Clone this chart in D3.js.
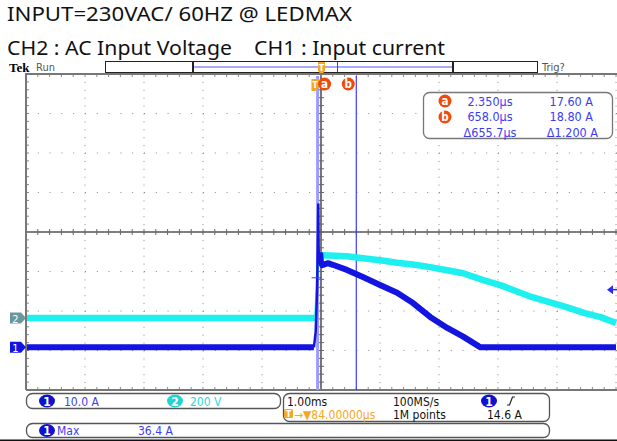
<!DOCTYPE html>
<meta charset="utf-8">
<style>
body { margin: 0; background: #fff; }
svg text { font-family: "Liberation Sans Narrow", "DejaVu Sans Condensed", "Liberation Sans", sans-serif; }
.title { font-family: "Noto Sans", "Open Sans", sans-serif; font-size: 20px; fill: #111; }
.ro { font-size: 12.5px; fill: #3c3cf4; }
.bt { font-size: 12px; }
</style>
<svg width="617" height="441"></svg>
<script src="https://d3js.org/d3.v7.min.js"></script>
<script>

// CH1 : input current (A) vs time from trigger (ms)
var ch1Time = [-4.94, -0.06, -0.03, -0.005, 0.014, 0.02, 0.03, 0.045, 0.06, 0.08, 0.18, 0.26, 0.5, 0.77, 1.06, 1.35, 1.62, 1.91, 2.2, 2.47, 2.73, 2.76, 5.06];
var ch1Amps = [0, 0, 4, 15, 36.4, 25, 21.5, 24, 21.5, 20.8, 21.3, 20.9, 19.6, 17.8, 15.8, 13.8, 11.2, 7.7, 4.9, 2.7, 0.3, 0, 0];

// CH2 : AC input voltage (V) vs time from trigger (ms)
var ch2Time = [-4.94, -0.04, -0.025, -0.008, 0.017, 0.04, 0.09, 0.5, 0.77, 1.06, 1.35, 1.62, 1.91, 2.2, 2.47, 2.81, 3.1, 3.37, 3.64, 3.93, 4.22, 4.53, 4.8, 5.06];
var ch2Volts = [0, 0, 60, 200, 330, 316, 318, 313, 303, 293, 280, 271, 258, 242, 227, 192, 167, 136, 106, 81, 56, 25, 5, -25];

// cursors
var cursorNames = ["a", "b"];
var cursorTimes = [0.00235, 0.658];
var cursorAmps = [17.60, 18.80];
var cursorTimeLabels = ["2.350\u00b5s", "658.0\u00b5s", "\u0394655.7\u00b5s"];
var cursorAmpLabels = ["17.60 A", "18.80 A", "\u03941.200 A"];

// scope settings
var ch1PerDiv = 10, ch2PerDiv = 200;
var ch1Offset = -2.92, ch2Offset = -2.18;   // divisions below centre
var timeStart = -4.94, timePerDiv = 1;      // ms
var trigLevel = 14.6, ch1Max = 36.4;

var blue = "#1414e0", cyan = "#1ef0f0", orange = "#f5a623", red = "#f04a0a", txtBlue = "#3c3cf4";

var svg = d3.select("svg");

var gLeft = 26, gRight = 616, gTop = 74, gBottom = 390;
var x = d3.scaleLinear().domain([timeStart, timeStart + 10 * timePerDiv]).range([gLeft, gRight]);
var divX = d3.scaleLinear().domain([-5, 5]).range([gLeft, gRight]);
var divY = d3.scaleLinear().domain([-4, 4]).range([gBottom, gTop]);
var y1 = d3.scaleLinear().domain([(-4 - ch1Offset) * ch1PerDiv, (4 - ch1Offset) * ch1PerDiv]).range([gBottom, gTop]);
var y2 = d3.scaleLinear().domain([(-4 - ch2Offset) * ch2PerDiv, (4 - ch2Offset) * ch2PerDiv]).range([gBottom, gTop]);

// titles
svg.append("text").attr("class", "title").attr("x", 7).attr("y", 21)
  .attr("textLength", 345).attr("lengthAdjust", "spacingAndGlyphs")
  .text("INPUT=230VAC/ 60HZ @ LEDMAX");
svg.append("text").attr("class", "title").attr("x", 7).attr("y", 55)
  .attr("textLength", 438).attr("lengthAdjust", "spacingAndGlyphs")
  .attr("xml:space", "preserve")
  .text("CH2 : AC Input Voltage    CH1 : Input current");

// header
svg.append("text").attr("x", 9).attr("y", 72).style("font-family", "Liberation Serif, serif")
  .style("font-weight", "bold").style("font-size", "13px").text("Tek");
svg.append("text").attr("x", 36).attr("y", 71).style("font-size", "11px").attr("fill", "#555").text("Run");
svg.append("text").attr("x", 542).attr("y", 71).style("font-size", "11px").attr("fill", "#555").text("Trig?");

// record bar
var bar = svg.append("g");
bar.append("rect").attr("x", 105.5).attr("y", 61.5).attr("width", 432).attr("height", 11)
  .attr("fill", "#fff").attr("stroke", "#222");
bar.append("line").attr("x1", 193).attr("x2", 453).attr("y1", 67).attr("y2", 67)
  .attr("stroke", "#8c8cff").attr("stroke-width", 1.5);
bar.selectAll(".edge").data([193, 453]).join("line")
  .attr("x1", d => d).attr("x2", d => d).attr("y1", 62).attr("y2", 72)
  .attr("stroke", "#222").attr("stroke-width", 2);
bar.append("line").attr("x1", 337.5).attr("x2", 337.5).attr("y1", 62).attr("y2", 72)
  .attr("stroke", "#3b3bff");
bar.append("path").attr("d", "M318,62h7v9l-3.5,4l-3.5,-4z").attr("fill", orange);
bar.append("text").attr("x", 321.5).attr("y", 70.5).attr("text-anchor", "middle")
  .attr("fill", "#fff").style("font-size", "9px").style("font-weight", "bold").text("T");

// grid
var grid = svg.append("g");
var inner = d3.range(-4, 5).filter(d => d !== 0);
grid.selectAll(".vx").data(inner).join("line")
  .attr("x1", d => divX(d)).attr("x2", d => divX(d)).attr("y1", gTop).attr("y2", gBottom)
  .attr("stroke", "#8a8a8a").attr("stroke-dasharray", "1," + ((gBottom - gTop) / 40 - 1));
grid.selectAll(".hy").data(d3.range(-3, 4).filter(d => d !== 0)).join("line")
  .attr("x1", gLeft).attr("x2", gRight + 1).attr("y1", d => divY(d)).attr("y2", d => divY(d))
  .attr("stroke", "#8a8a8a").attr("stroke-dasharray", "1," + ((gRight - gLeft) / 50 - 1));
grid.append("line").attr("x1", gRight).attr("x2", gRight).attr("y1", gTop).attr("y2", gBottom)
  .attr("stroke", "#8a8a8a").attr("stroke-dasharray", "1," + ((gBottom - gTop) / 40 - 1));

// centre axes with minor ticks
grid.append("line").attr("x1", gLeft).attr("x2", 617).attr("y1", divY(0)).attr("y2", divY(0))
  .attr("stroke", "#555").attr("stroke-width", 1.6);
grid.append("line").attr("x1", divX(0)).attr("x2", divX(0)).attr("y1", gTop).attr("y2", gBottom)
  .attr("stroke", "#555").attr("stroke-width", 1.6);
grid.selectAll(".mtx").data(d3.range(-25, 26)).join("line")
  .attr("x1", d => divX(d / 5)).attr("x2", d => divX(d / 5))
  .attr("y1", divY(0) - 3).attr("y2", divY(0) + 3).attr("stroke", "#666");
grid.selectAll(".mty").data(d3.range(-20, 21)).join("line")
  .attr("x1", divX(0) - 3).attr("x2", divX(0) + 3)
  .attr("y1", d => divY(d / 5)).attr("y2", d => divY(d / 5)).attr("stroke", "#666");

// border ticks
grid.selectAll(".btx").data(d3.range(-25, 26)).join("line")
  .attr("x1", d => divX(d / 5)).attr("x2", d => divX(d / 5))
  .attr("y1", gTop).attr("y2", gTop + 3).attr("stroke", "#888");
grid.selectAll(".bbx").data(d3.range(-25, 26)).join("line")
  .attr("x1", d => divX(d / 5)).attr("x2", d => divX(d / 5))
  .attr("y1", gBottom - 3).attr("y2", gBottom).attr("stroke", "#888");
grid.selectAll(".bly").data(d3.range(-20, 21)).join("line")
  .attr("x1", gLeft).attr("x2", gLeft + 3)
  .attr("y1", d => divY(d / 5)).attr("y2", d => divY(d / 5)).attr("stroke", "#888");

// border
grid.append("path").attr("d", `M${gLeft},${gBottom}V${gTop}H617`).attr("fill", "none")
  .attr("stroke", "#777").attr("stroke-width", 2);
grid.append("line").attr("x1", gLeft).attr("x2", 617).attr("y1", gBottom).attr("y2", gBottom)
  .attr("stroke", "#777").attr("stroke-width", 2);

// cursor lines
svg.append("line").attr("x1", x(cursorTimes[0])).attr("x2", x(cursorTimes[0]))
  .attr("y1", gTop + 2).attr("y2", gBottom).attr("stroke", "#9c9cff").attr("stroke-width", 3);
svg.append("line").attr("x1", x(cursorTimes[1])).attr("x2", x(cursorTimes[1]))
  .attr("y1", gTop + 2).attr("y2", gBottom).attr("stroke", "#3b3bff").attr("stroke-width", 1.2);

// traces (the fast edges are drawn thinner than the noisy band)
svg.append("clipPath").attr("id", "plot").append("rect")
  .attr("x", gLeft + 1).attr("y", gTop).attr("width", 617 - gLeft).attr("height", gBottom - gTop);
var isEdge = d => d[0] > -0.035 && d[0] < 0.035;
var nearEdge = d => d[0] > -0.07 && d[0] < 0.07;
var ch2Data = d3.zip(ch2Time, ch2Volts), ch1Data = d3.zip(ch1Time, ch1Amps);
var band2 = d3.line().defined(d => !isEdge(d)).x(d => x(d[0])).y(d => y2(d[1]));
var band1 = d3.line().defined(d => !isEdge(d)).x(d => x(d[0])).y(d => y1(d[1]));
var edge2 = d3.line().x(d => x(d[0])).y(d => y2(d[1]));
var edge1 = d3.line().x(d => x(d[0])).y(d => y1(d[1]));

svg.append("path").attr("clip-path", "url(#plot)")
  .attr("d", band2(ch2Data))
  .attr("fill", "none").attr("stroke", cyan).attr("stroke-width", 6.5).attr("stroke-linejoin", "round");
svg.append("path")
  .attr("d", edge2(ch2Data.filter(nearEdge)))
  .attr("fill", "none").attr("stroke", cyan).attr("stroke-width", 2.5);

svg.append("path").attr("clip-path", "url(#plot)")
  .attr("d", band1(ch1Data))
  .attr("fill", "none").attr("stroke", blue).attr("stroke-width", 6).attr("stroke-linejoin", "round");
svg.append("path")
  .attr("d", edge1(ch1Data.filter(nearEdge)))
  .attr("fill", "none").attr("stroke", blue).attr("stroke-width", 2.5);

// cursor a crosshair
svg.append("line").attr("x1", x(cursorTimes[0]) - 6).attr("x2", x(cursorTimes[0]) + 4)
  .attr("y1", y1(cursorAmps[0])).attr("y2", y1(cursorAmps[0])).attr("stroke", "#3b3bff");

// channel ground markers
function groundMarker(y, fill, label) {
  svg.append("path").attr("d", `M10,${y - 5.5}h11l5,5.5l-5,5.5h-11z`).attr("fill", fill);
  svg.append("text").attr("x", 15.5).attr("y", y + 4.5).attr("text-anchor", "middle")
    .attr("fill", "#fff").style("font-size", "11px").text(label);
}
groundMarker(y2(0), "#6a9898", "2");
groundMarker(y1(0), blue, "1");

// trigger level arrow
var ty = y1(trigLevel);
svg.append("path").attr("d", `M607,${ty}l6,-4.5v9z`).attr("fill", "#2a2aff");
svg.append("line").attr("x1", 610).attr("x2", 617).attr("y1", ty).attr("y2", ty).attr("stroke", "#2a2aff").attr("stroke-width", 1.5);

// trigger position marker and cursor labels
svg.append("path").attr("d", `M${x(0) - 6},79h8v7l-4,5h-4z`).attr("fill", orange);
svg.append("text").attr("x", x(0) - 2.5).attr("y", 88).attr("text-anchor", "middle")
  .attr("fill", "#fff").style("font-size", "9px").style("font-weight", "bold").text("T");

function badge(cx, cy, label) {
  svg.append("circle").attr("cx", cx).attr("cy", cy).attr("r", 6.5).attr("fill", red);
  svg.append("text").attr("x", cx).attr("y", cy + 4).attr("text-anchor", "middle")
    .attr("fill", "#fff").style("font-size", "11.5px").style("font-weight", "bold").text(label);
}
badge(x(cursorTimes[0]) + 7, 84, "a");
badge(x(cursorTimes[1]) - 8, 84, "b");

// cursor readout box
svg.append("rect").attr("x", 423.5).attr("y", 92.5).attr("width", 189).attr("height", 46).attr("rx", 6)
  .attr("fill", "#fff").attr("stroke", "#777").attr("stroke-width", 1.3);
cursorNames.forEach((n, i) => badge(445, 101 + i * 16, n));
cursorTimeLabels.forEach((t, i) => {
  svg.append("text").attr("class", "ro").attr("x", 490).attr("y", 105.5 + i * 15.5)
    .attr("text-anchor", "middle").text(t);
});
cursorAmpLabels.forEach((t, i) => {
  svg.append("text").attr("class", "ro").attr("x", i === 2 ? 598 : 593).attr("y", 105.5 + i * 15.5)
    .attr("text-anchor", "end").text(t);
});

// bottom status panels
function panel(x0, y0, w, h) {
  svg.append("rect").attr("x", x0).attr("y", y0).attr("width", w).attr("height", h).attr("rx", 6)
    .attr("fill", "#fff").attr("stroke", "#555").attr("stroke-width", 1.3);
}
function chBadge(cx, cy, fill, label) {
  svg.append("ellipse").attr("cx", cx).attr("cy", cy).attr("rx", 8).attr("ry", 6.5).attr("fill", fill);
  svg.append("text").attr("x", cx).attr("y", cy + 4.5).attr("text-anchor", "middle")
    .attr("fill", "#fff").style("font-size", "12px").style("font-weight", "bold").text(label);
}
function bt(x0, y0, fill, s) {
  svg.append("text").attr("class", "bt").attr("x", x0).attr("y", y0).attr("fill", fill).text(s);
}
panel(26.5, 393.5, 254, 15);
panel(283.5, 393.5, 266, 28);
panel(26.5, 423.5, 523, 14);

chBadge(47, 401, "#1212cc", "1");
bt(64, 405.5, txtBlue, ch1PerDiv.toFixed(1) + " A");
chBadge(175, 401, "#22d4d4", "2");
bt(190, 405.5, "#2ad8d8", ch2PerDiv + " V");

bt(287, 405.5, "#111", (timePerDiv).toFixed(2) + "ms");
bt(393, 405.5, "#111", "100MS/s");
chBadge(489, 401, "#1212cc", "1");
svg.append("path").attr("d", "M507,405h2.5l3,-8h2.5").attr("fill", "none").attr("stroke", "#222").attr("stroke-width", 1.2);

svg.append("rect").attr("x", 284).attr("y", 409).attr("width", 9).attr("height", 9).attr("rx", 1.5).attr("fill", orange);
svg.append("text").attr("x", 288.5).attr("y", 417).attr("text-anchor", "middle").attr("fill", "#fff")
  .style("font-size", "9px").style("font-weight", "bold").text("T");
bt(294, 418.5, orange, "\u2192\u25bc84.00000\u00b5s");
bt(393, 418.5, "#111", "1M points");
bt(487, 418.5, "#111", trigLevel.toFixed(1) + " A");

chBadge(47, 430.5, "#1212cc", "1");
bt(57, 435, txtBlue, "Max");
bt(138, 435, txtBlue, ch1Max.toFixed(1) + " A");

svg.append("rect").attr("x", 0).attr("y", 439.5).attr("width", 617).attr("height", 1.5).attr("fill", "#111");

</script>
